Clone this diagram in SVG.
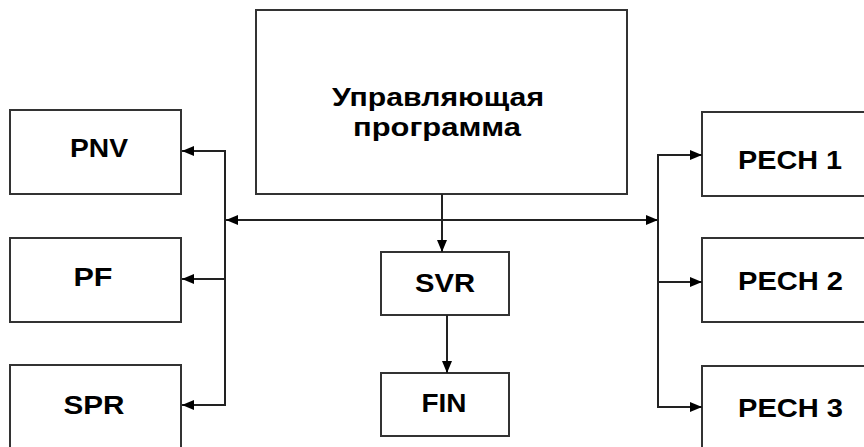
<svg xmlns="http://www.w3.org/2000/svg" width="864" height="447" viewBox="0 0 864 447">
  <style>
    .box { fill: #ffffff; stroke: #333333; stroke-width: 2; }
    .lbl { font-family: "Liberation Sans", Arial, sans-serif; font-weight: bold; font-size: 26px; fill: #000000; }
    .mid { text-anchor: middle; }
    .wire { fill: none; stroke: #222222; stroke-width: 2; }
  </style>
  <defs>
    <marker id="arrow" viewBox="0 0 12 10" refX="12" refY="5" markerWidth="12" markerHeight="10" markerUnits="userSpaceOnUse" orient="auto-start-reverse">
      <path d="M0,0 L12,5 L0,10 Z" fill="#000000"/>
    </marker>
  </defs>
  <rect width="864" height="447" fill="#ffffff"/>

  <g id="main">
    <rect class="box" x="256" y="10" width="371" height="184"/>
    <text class="lbl mid" x="438" y="106" textLength="212" lengthAdjust="spacingAndGlyphs">Управляющая</text>
    <text class="lbl mid" x="437" y="136" textLength="168" lengthAdjust="spacingAndGlyphs">программа</text>
  </g>

  <g id="pnv">
    <rect class="box" x="10" y="110" width="171" height="84"/>
    <text class="lbl mid" x="99" y="157" textLength="58" lengthAdjust="spacingAndGlyphs">PNV</text>
  </g>
  <g id="pf">
    <rect class="box" x="10" y="238" width="171" height="84"/>
    <text class="lbl mid" x="93" y="286" textLength="39" lengthAdjust="spacingAndGlyphs">PF</text>
  </g>
  <g id="spr">
    <rect class="box" x="10" y="365" width="171" height="90"/>
    <text class="lbl mid" x="94" y="414" textLength="61" lengthAdjust="spacingAndGlyphs">SPR</text>
  </g>

  <g id="svr">
    <rect class="box" x="381" y="252" width="128" height="63"/>
    <text class="lbl mid" x="445" y="292" textLength="60" lengthAdjust="spacingAndGlyphs">SVR</text>
  </g>
  <g id="fin">
    <rect class="box" x="381" y="373" width="128" height="63"/>
    <text class="lbl mid" x="444" y="412" textLength="45" lengthAdjust="spacingAndGlyphs">FIN</text>
  </g>

  <g id="pech1">
    <rect class="box" x="702" y="112" width="175" height="84"/>
    <text class="lbl" x="738" y="169" textLength="104" lengthAdjust="spacingAndGlyphs">PECH 1</text>
  </g>
  <g id="pech2">
    <rect class="box" x="702" y="238" width="175" height="84"/>
    <text class="lbl" x="738" y="290" textLength="105" lengthAdjust="spacingAndGlyphs">PECH 2</text>
  </g>
  <g id="pech3">
    <rect class="box" x="702" y="366" width="175" height="90"/>
    <text class="lbl" x="738" y="417" textLength="105" lengthAdjust="spacingAndGlyphs">PECH 3</text>
  </g>

  <g id="connectors">
    <!-- shared bus between the two distribution rails -->
    <line class="wire" x1="226" y1="220" x2="658" y2="220" marker-start="url(#arrow)" marker-end="url(#arrow)"/>
    <!-- left rail -->
    <line class="wire" x1="225" y1="150" x2="225" y2="406"/>
    <line class="wire" x1="225" y1="151" x2="182" y2="151" marker-end="url(#arrow)"/>
    <line class="wire" x1="225" y1="279" x2="182" y2="279" marker-end="url(#arrow)"/>
    <line class="wire" x1="225" y1="405" x2="182" y2="405" marker-end="url(#arrow)"/>
    <!-- right rail -->
    <line class="wire" x1="658" y1="154" x2="658" y2="408"/>
    <line class="wire" x1="658" y1="155" x2="702" y2="155" marker-end="url(#arrow)"/>
    <line class="wire" x1="658" y1="282" x2="702" y2="282" marker-end="url(#arrow)"/>
    <line class="wire" x1="658" y1="407" x2="702" y2="407" marker-end="url(#arrow)"/>
    <!-- vertical chain -->
    <line class="wire" x1="442" y1="194" x2="442" y2="252" marker-end="url(#arrow)"/>
    <line class="wire" x1="447" y1="315" x2="447" y2="373" marker-end="url(#arrow)"/>
  </g>
</svg>
